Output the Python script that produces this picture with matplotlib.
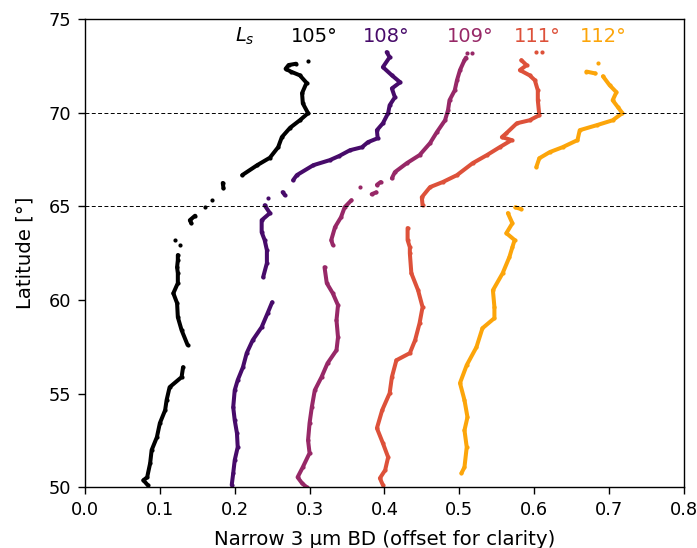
import numpy as np
import matplotlib
matplotlib.use("Agg")
import matplotlib.pyplot as plt

nan = np.nan

# Series: latitude and narrow 3 µm band depth (offset). NaN separates gaps.
lat_105 = [72.76, nan,
           72.62, 72.55, 72.35, 72.2, 72.0, 71.6, 71.05, 70.5, 69.98, 69.6, 69.2, 68.7, 68.16, 67.6, 67.2, 66.67, nan,
           66.25, 65.97, nan, 65.33, nan, 64.96, nan, 64.5, 64.26, 64.1, nan, 63.2, nan, 62.93, nan,
           62.4, 62.13, 61.75, 61.43, 60.9, 60.36, 59.83, 59.08, 58.39, 57.6, nan,
           56.41, 55.88, 55.34, 54.65, 54.11, 53.42, 52.67, 51.98, 51.28, 50.53, 50.37, 50.1]
bd_105 = [0.298, nan,
          0.282, 0.272, 0.268, 0.275, 0.287, 0.296, 0.290, 0.291, 0.298, 0.287, 0.274, 0.263, 0.258, 0.247, 0.230, 0.210, nan,
          0.184, 0.185, nan, 0.170, nan, 0.160, nan, 0.147, 0.140, 0.142, nan, 0.120, nan, 0.127, nan,
          0.124, 0.124, 0.123, 0.124, 0.124, 0.118, 0.123, 0.124, 0.129, 0.137, nan,
          0.131, 0.129, 0.113, 0.109, 0.107, 0.100, 0.096, 0.089, 0.087, 0.083, 0.078, 0.084]

lat_108 = [73.24, 72.97, 72.44, 72.0, 71.63, 71.3, 70.83, 70.4, 69.98, 69.44, 69.07, 68.64, 68.43, 68.16, 68.0, 67.7,
           67.47, 67.2, 66.67, 66.4, nan, 65.76, 65.6, nan, 65.44, nan,
           65.06, 64.64, 64.26, 63.62, 63.2, 62.66, 61.97, 61.22, nan,
           59.88, 59.3, 58.55, 57.85, 57.16, 56.41, 55.72, 55.18, 54.27, 53.58, 52.88, 52.14, 51.44, 50.75, 50.11]
bd_108 = [0.403, 0.407, 0.398, 0.410, 0.421, 0.410, 0.414, 0.407, 0.405, 0.398, 0.390, 0.391, 0.378, 0.370, 0.354, 0.340,
          0.327, 0.305, 0.283, 0.278, nan, 0.264, 0.267, nan, 0.244, nan,
          0.240, 0.247, 0.236, 0.236, 0.240, 0.243, 0.243, 0.238, nan,
          0.250, 0.244, 0.236, 0.224, 0.216, 0.211, 0.204, 0.200, 0.198, 0.200, 0.203, 0.204, 0.200, 0.198, 0.196]

lat_109 = [73.18, nan, 73.2, nan,
           72.95, 72.81, 72.28, 71.74, 71.2, 70.67, 70.14, 69.6, 68.96, 68.38, 67.74, 67.31, 66.83, 66.5, nan,
           66.3, 66.15, nan, 66.03, nan, 65.75, 65.65, nan,
           65.33, 64.96, 64.42, 63.89, 63.2, 62.95, nan,
           61.75, 60.9, 60.36, 59.72, 58.92, 58.01, 57.32, 56.62, 55.88, 55.18, 54.27, 53.42, 52.51, 51.82,
           51.07, 50.53, 50.21, 50.0]
bd_109 = [0.510, nan, 0.517, nan,
          0.509, 0.507, 0.501, 0.497, 0.494, 0.487, 0.485, 0.481, 0.470, 0.461, 0.447, 0.430, 0.414, 0.410, nan,
          0.395, 0.390, nan, 0.367, nan, 0.389, 0.383, nan,
          0.356, 0.347, 0.342, 0.334, 0.329, 0.331, nan,
          0.320, 0.323, 0.331, 0.338, 0.336, 0.338, 0.336, 0.324, 0.316, 0.307, 0.303, 0.300, 0.298, 0.300,
          0.291, 0.284, 0.290, 0.296]

lat_111 = [73.24, nan, 73.24, nan,
           72.81, 72.54, 72.28, 72.0, 71.74, 71.2, 70.67, 69.87, 69.6, 69.44, 68.91, 68.7, 68.54, 68.16, 67.74,
           67.31, 66.67, 66.3, 66.03, 65.49, 65.06, nan,
           63.84, 63.2, 62.82, 62.5, 61.43, 60.52, 59.62, 58.76, 57.85, 57.16, 56.78, 55.88, 55.02, 54.11,
           53.15, 52.35, 51.6, 50.91, 50.48, 50.11]
bd_111 = [0.603, nan, 0.610, nan,
          0.583, 0.590, 0.581, 0.594, 0.601, 0.605, 0.605, 0.607, 0.594, 0.577, 0.563, 0.557, 0.570, 0.554, 0.537,
          0.518, 0.497, 0.478, 0.461, 0.450, 0.451, nan,
          0.431, 0.431, 0.434, 0.434, 0.436, 0.445, 0.451, 0.447, 0.441, 0.434, 0.416, 0.410, 0.407, 0.397,
          0.390, 0.398, 0.405, 0.401, 0.394, 0.398]

lat_112 = [72.65, nan, 72.2, 72.1, nan,
           71.95, 71.47, 71.1, 70.67, 70.3, 69.98, 69.6, 69.34, 69.07, 68.54, 68.16, 67.9, 67.57, 67.1, nan,
           64.95, 64.85, nan,
           64.64, 64.1, 63.57, 63.2, 62.82, 62.29, 61.43, 60.52, 59.62, 59.03, 58.49, 57.48, 56.52, 55.56,
           54.65, 53.74, 53.04, 52.14, 51.07, 50.75]
bd_112 = [0.685, nan, 0.670, 0.682, nan,
          0.692, 0.701, 0.710, 0.705, 0.712, 0.718, 0.705, 0.684, 0.661, 0.658, 0.638, 0.621, 0.607, 0.603, nan,
          0.575, 0.583, nan,
          0.565, 0.571, 0.563, 0.574, 0.571, 0.567, 0.558, 0.545, 0.547, 0.547, 0.531, 0.523, 0.510, 0.501,
          0.507, 0.511, 0.507, 0.510, 0.507, 0.503]

ls_labels = ["105°", "108°", "109°", "111°", "112°"]
label_x = [0.307, 0.403, 0.515, 0.604, 0.693]
colors = ["#000000", "#470b6a", "#972867", "#dd513a", "#fca50a"]

series = [(bd_105, lat_105), (bd_108, lat_108), (bd_109, lat_109), (bd_111, lat_111), (bd_112, lat_112)]

fig = plt.figure(figsize=(6.97, 5.48), dpi=100)
ax = fig.add_axes([0.122, 0.111, 0.859, 0.854])

for (x, y), c in zip(series, colors):
    ax.plot(x, y, '-', color=c, lw=2.9, solid_capstyle='round', solid_joinstyle='round')
    ax.plot(x, y, 'o', color=c, ms=3.0, mew=0)

for lat in [65, 70]:
    ax.axhline(lat, color='k', ls='--', lw=0.7, dashes=(4, 2.5))

ax.text(0.214, 74.1, r"$L_s$", color='k', fontsize=14, ha='center', va='center')
for lab, xx, c in zip(ls_labels, label_x, colors):
    ax.text(xx, 74.1, lab, color=c, fontsize=14, ha='center', va='center')

ax.set_xlim(0, 0.8)
ax.set_ylim(50, 75)
ax.set_xticks([0.0, 0.1, 0.2, 0.3, 0.4, 0.5, 0.6, 0.7, 0.8])
ax.set_yticks([50, 55, 60, 65, 70, 75])
ax.tick_params(labelsize=12.8, length=4.7, width=1.0, pad=5.5)
for s in ax.spines.values():
    s.set_linewidth(1.0)
ax.set_xlabel("Narrow 3 µm BD (offset for clarity)", fontsize=14.2, labelpad=8)
ax.set_ylabel("Latitude [°]", fontsize=14.2, labelpad=10)

fig.savefig("out.png", dpi=100)
